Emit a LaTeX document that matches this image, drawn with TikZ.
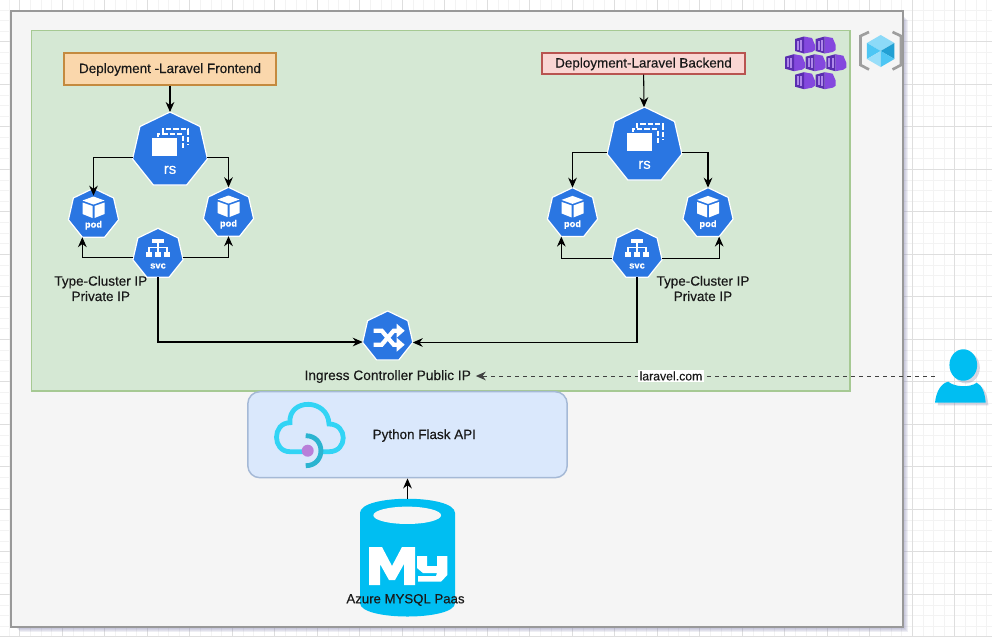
\documentclass[tikz,border=0pt]{standalone}
\usepackage{xcolor}
\usepackage{fontspec}
\setmainfont{Liberation Sans}[FakeBold=0.3]
\usetikzlibrary{shapes.geometric,arrows.meta,shadows}
\definecolor{kubeblue}{HTML}{2A76E2}
\definecolor{panelgray}{HTML}{F5F5F5}
\definecolor{paneledge}{HTML}{999999}
\definecolor{azurecyan}{HTML}{00BEF2}
\definecolor{cloudcyan}{HTML}{32D4F5}
\definecolor{gridminor}{HTML}{F3F3F3}
\definecolor{gridmajor}{HTML}{DEDEDE}
\definecolor{akspurple}{HTML}{8448DE}
\definecolor{aksdark}{HTML}{5A2DB0}
\definecolor{greenfill}{HTML}{D5E8D4}
\definecolor{greenedge}{HTML}{A6C993}
\definecolor{frontfill}{HTML}{FAD7AC}
\definecolor{frontedge}{HTML}{C48A3F}
\definecolor{backfill}{HTML}{FAD6D3}
\definecolor{backedge}{HTML}{B85450}
\definecolor{flaskfill}{HTML}{DAE8FC}
\definecolor{flaskedge}{HTML}{A5B9D6}
\definecolor{flaskdot}{HTML}{B87FD9}
\tikzset{
    label text/.style = {font=\fontsize{10.1}{11.5}\selectfont, text=black!90, inner sep=0pt, align=center},
    one line/.style = {text height=7pt, text depth=1pt},
    deploy/.style = {rectangle, line width=0.9pt, one line, font=\fontsize{10.1}{11.5}\selectfont, text=black!90, inner sep=0pt},
    kube/.style = {regular polygon, regular polygon sides=7, fill=kubeblue, draw=white, line width=0.9pt, inner sep=0pt, outer sep=0pt},
    kube large/.style = {kube, minimum size=57.6pt},
    kube small/.style = {kube, minimum size=38.6pt},
    link/.style = {draw, line width=0.8pt, -{Stealth[length=7.5pt,width=6.5pt]}},
    kube caption/.style = {font=\bfseries\fontsize{7}{8}\selectfont, text=white, inner sep=0pt},
    rs icon/.pic = {
        \fill[white] (-18,-12) rectangle (7,6);
        \draw[white, line width=1.5pt, dash pattern=on 4pt off 1.5pt] (-12,-13) -- (-12,-16) -- (13,-16) -- (13,-1);
        \draw[white, line width=1.5pt, dash pattern=on 4pt off 1.5pt] (-7.5,-17) -- (-7.5,-21) -- (18,-21) -- (18,-5);
    },
    pod icon/.pic = {
        \fill[white] (0,-17.5) -- (11,-13.5) -- (0,-9.5) -- (-11,-13.5) -- cycle;
        \fill[white] (-11,-11.5) -- (-1,-8) -- (-1,4) -- (-11,0) -- cycle;
        \fill[white] (11,-11.5) -- (1,-8) -- (1,4) -- (11,0) -- cycle;
    },
    svc icon/.pic = {
        \fill[white] (-6,-15) rectangle (6,-10.7);
        \draw[white, line width=0.8pt] (0,-10.7) -- (0,-1.7) (-9,-1.7) -- (-9,-6.7) -- (9,-6.7) -- (9,-1.7);
        \foreach \boxx in {-12,-3,6} {
            \fill[white] (\boxx,-1.7) rectangle ++(6,5);
        }
    },
    ingress icon/.pic = {
        \draw[white, line width=3.2pt] (-14,-6) -- (-6,-6) -- (6,8) -- (10,8);
        \draw[white, line width=3.2pt] (-14,8) -- (-6,8) -- (6,-6) -- (10,-6);
        \fill[white] (9,-13) -- (17,-6) -- (9,1) -- cycle;
        \fill[white] (9,1) -- (17,8) -- (9,15) -- cycle;
    },
    aks cube/.pic = {
        \fill[akspurple] (-1,-8.5) -- (7,-7) -- (10,0) -- (10,5) -- (7,7) -- (-1,8.5) -- cycle;
        \fill[aksdark] (-10,-6) -- (-1,-8.5) -- (-1,8.5) -- (-10,6) -- cycle;
        \fill[akspurple!65] (-8,-4.5) rectangle (-6.2,4.5);
        \fill[akspurple!65] (-4.6,-5) rectangle (-2.8,5.5);
    }
}

\begin{document}
\begin{tikzpicture}[x=0.75pt, y=-0.75pt]
    % Background grid
    \useasboundingbox (0,0) rectangle (992,637);
    \fill[white] (0,0) rectangle (992,637);
    \foreach \gx in {9.2,19.825,...,992} {
        \draw[gridminor, line width=0.6pt] (\gx,0) -- (\gx,637);
    }
    \foreach \gy in {10,20.625,...,637} {
        \draw[gridminor, line width=0.6pt] (0,\gy) -- (992,\gy);
    }
    \foreach \gx in {19.8,62.3,...,992} {
        \draw[gridmajor, line width=0.6pt] (\gx,0) -- (\gx,637);
    }
    \foreach \gy in {41.7,84.2,...,637} {
        \draw[gridmajor, line width=0.6pt] (0,\gy) -- (992,\gy);
    }

    % Panels
    \foreach \spread in {1,2,...,6} {
        \fill[blue!35!black!45, opacity=0.14] (14+\spread,14+\spread) rectangle (902+\spread,626+\spread);
    }
    \draw[paneledge, fill=panelgray, line width=1.3pt] (11,11) rectangle (903,627);
    \draw[greenedge, fill=greenfill, line width=0.9pt] (31.5,30.5) rectangle (850,391);

    % Place nodes
    \node [deploy, draw=frontedge, fill=frontfill, minimum width=159pt, minimum height=24pt] (deploy_front) at (170,69) {Deployment -Laravel Frontend};
    \node [deploy, draw=backedge, fill=backfill, minimum width=152.25pt, minimum height=15.75pt] (deploy_back) at (643.5,63.5) {Deployment-Laravel Backend};

    \foreach \name/\posx/\posy in {rs_1/170/150.4, rs_2/644.5/145.4} {
        \node [kube large] (\name) at (\posx,\posy) {};
        \pic at (\name) {rs icon};
        \node [kube caption, font=\fontsize{11.2}{13}\selectfont] (\name_text) at ([yshift=-14.6pt]\name) {rs};
    }
    \foreach \name/\posx/\posy in {pod_1/93.5/214, pod_2/228.5/213, pod_3/572.5/213.4, pod_4/708/213.4} {
        \node [kube small] (\name) at (\posx,\posy) {};
        \pic at (\name) {pod icon};
        \node [kube caption] (\name_text) at ([yshift=-8.4pt]\name) {pod};
    }
    \foreach \name/\posx/\posy in {svc_1/158/254, svc_2/637/254} {
        \node [kube small] (\name) at (\posx,\posy) {};
        \pic at (\name) {svc icon};
        \node [kube caption] (\name_text) at ([yshift=-9pt]\name) {svc};
    }
    \node [kube small] (ingress_1) at (387.7,336.7) {};
    \pic at (ingress_1) {ingress icon};

    \node [label text] (type_front) at (100.8,288.5) {Type-Cluster IP\\Private IP};
    \node [label text] (type_back) at (703,288.5) {Type-Cluster IP\\Private IP};
    \node [label text, one line, font=\fontsize{10.3}{11.5}\selectfont] (ingress_text) at (387.7,376) {Ingress Controller Public IP};

    % Flask API box and cloud
    \node [rectangle, draw=flaskedge, fill=flaskfill, line width=1.1pt, rounded corners=9pt, minimum width=239.5pt, minimum height=64.5pt] (flask_1) at (407.5,434.7) {};
    \node [label text, one line] (flask_text) at (424.3,435) {Python Flask API};
    \draw[cloudcyan, line width=3.6pt] (303.3,451.7) -- (290,451.7) .. controls (272,451.7) and (272,422.7) .. (290,422.7) .. controls (288,398) and (328,398) .. (329,424) .. controls (348,424) and (348,451.7) .. (329,451.7) -- (321.7,451.7);
    \draw[black!15!cloudcyan, line width=3.6pt] (305.7,435.7) .. controls (326,435.7) and (326,465.7) .. (305.7,465.7);
    \fill[flaskdot] (307.7,450.7) circle [radius=4.5pt];

    % Database
    \fill[azurecyan] (360,513) .. controls (360,494) and (455,494) .. (455,513) -- (455,603) .. controls (455,621) and (360,621) .. (360,603) -- cycle;
    \fill[panelgray] (407.2,515.3) ellipse [x radius=25.4pt, y radius=6.5pt];
    \fill[white] (369,547) -- (382,547) -- (392,566) -- (402,547) -- (415,547) -- (415,585) -- (404,585) -- (404,564) -- (395,580) -- (389,580) -- (380,564) -- (380,585) -- (369,585) -- cycle;
    \fill[white] (417,556) -- (427,556) -- (427,566) -- (437,566) -- (437,556) -- (447.3,556) -- (447.3,575) -- (441,581.7) -- (418,581.7) -- (418,576) -- (436,576) -- (437,573) -- (423,573) -- (417,568) -- cycle;
    \node [rectangle, minimum width=71.25pt, minimum height=87.75pt, inner sep=0pt] (mysql_1) at (407.5,557.5) {};
    \node [label text, one line, font=\fontsize{9.9}{11.5}\selectfont] (mysql_text) at (405.5,599.3) {Azure MYSQL Paas};

    % User
    \path[fill=azurecyan, drop shadow={shadow xshift=2pt, shadow yshift=-2pt, opacity=0.25, fill=blue!30!black!60}] (935,402.7) .. controls (936,392) and (941,383) .. (948.3,381.7) .. controls (954,387) and (970,388) .. (976.7,382.7) .. controls (982,385) and (985,393) .. (985.7,402.7) -- cycle;
    \path[fill=azurecyan, drop shadow={shadow xshift=2pt, shadow yshift=-2pt, opacity=0.25, fill=blue!30!black!60}] (963.3,365) ellipse [x radius=10.4pt, y radius=11.8pt];
    \node [rectangle, minimum width=42.6pt, minimum height=40pt, inner sep=0pt] (user_1) at (963.4,376) {};

    % Top right icons
    \foreach \cubex/\cubey in {805/45, 825.7/45, 795/62.7, 815.7/62.7, 836.3/62.7, 805/80.7, 825.7/80.7} {
        \pic at (\cubex,\cubey) {aks cube};
    }
    \draw[black!38, line width=2pt] (869,32) -- (860.5,36) -- (860.5,65) -- (869,69.5);
    \draw[black!38, line width=2pt] (892.5,32) -- (901,36) -- (901,65) -- (892.5,69.5);
    \fill[cyan!45] (866.9,43) -- (880.7,35) -- (894.4,43) -- (880.7,51) -- cycle;
    \fill[cyan!70] (866.9,43) -- (880.7,51) -- (866.9,59) -- cycle;
    \fill[cyan!40] (866.9,59) -- (880.7,51) -- (880.7,67) -- cycle;
    \fill[cyan!85!black] (894.4,43) -- (880.7,51) -- (894.4,59) -- cycle;
    \fill[cyan!70] (894.4,59) -- (880.7,51) -- (880.7,67) -- cycle;

    % Connectors
    \path [link] (deploy_front) -- (rs_1);
    \path [link] (deploy_back) -- (rs_2);
    \path [link, shorten >=-5.5pt] (rs_1.191) -| (pod_1.north);
    \path [link] (rs_1.349) -| (pod_2.north);
    \path [link] (rs_2.191) -| (pod_3.north);
    \path [link] (rs_2.349) -| (pod_4.north);
    \path [link] (svc_1.189) -| (pod_1.corner 4);
    \path [link] (svc_1.351) -| (pod_2.south);
    \path [link] (svc_2.191) -| (pod_3.corner 4);
    \path [link] (svc_2.349) -| (pod_4.corner 5);
    \path [link] (svc_1.south) |- (ingress_1.192.6);
    \path [link] (svc_2.south) |- (ingress_1.347.4);
    \path [link] (mysql_1.north) -- (flask_1.south);
    \path [link, line width=0.7pt, draw=black!75, dash pattern=on 3pt off 3pt, shorten >=3.5pt] (user_1.west) -- node [pos=0.569, fill=white, inner sep=1pt, font=\fontsize{9.2}{11}\selectfont, text=black!90] (site_label) {laravel.com} (ingress_text.east);
\end{tikzpicture}
\end{document}
